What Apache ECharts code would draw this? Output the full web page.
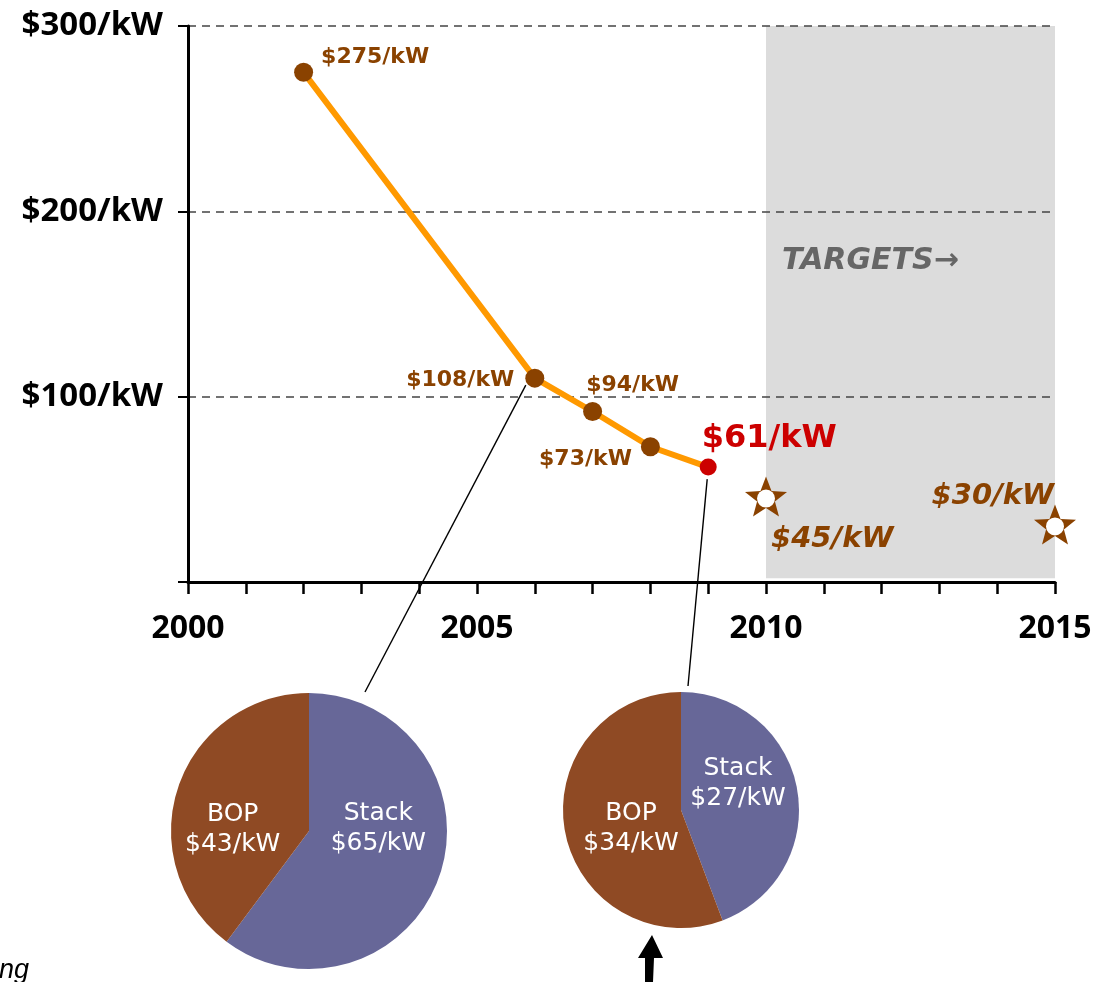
<!DOCTYPE html>
<html>
<head>
<meta charset="utf-8">
<script src="https://cdn.jsdelivr.net/npm/echarts@6/dist/echarts.min.js"></script>
<style>
html,body{margin:0;padding:0;background:#fff;}
#chart{width:1111px;height:982px;}
</style>
</head>
<body>
<div id="chart"></div>
<script>
// ---- data ----
const years = [2002, 2006, 2007, 2008, 2009];
const costs = [275, 110, 92, 73, 62];
const costLabels = ['$275/kW', '$108/kW', '$94/kW', '$73/kW', '$61/kW'];
const targetYears = [2010, 2015];
const targetCosts = [45, 30];
const targetLabels = ['$45/kW', '$30/kW'];
const pieNames = ['Stack', 'BOP'];
const pie2006 = [65, 43];
const pie2009 = [27, 34];
const xTickLabels = [2000, 2005, 2010, 2015];
const yTickLabels = [100, 200, 300];
const targetSpan = [2010, 2015];
const targetText = 'TARGETS\u2192';
const footText = 'ng';

// ---- styles ----
const BROWN = '#8a4200';
const RED = '#cc0000';
const ORANGE = '#ff9900';
const PIE_BROWN = '#8f4a24';
const PIE_PURPLE = '#676798';

const costLabelStyle = [
  {position: 'right', offset: [3, -15]},
  {position: 'left', offset: [-6, 2]},
  {position: 'top', offset: [40, -1]},
  {position: 'left', offset: [-4, 13]},
  {position: 'right', offset: [-20, -28], color: RED, fontSize: 32}
];
const targetLabelStyle = [
  {position: 'right', offset: [-9, 41]},
  {position: 'left', offset: [13, -30]}
];

const starPath = 'path://M0,-10 L2.5,-3.44 L9.51,-3.09 L4.04,1.31 L5.88,8.09 L0,4.25 L-5.88,8.09 L-4.04,1.31 L-9.51,-3.09 L-2.5,-3.44 Z';

const lineData = years.map((y, i) => {
  const st = costLabelStyle[i];
  const isLast = i === years.length - 1;
  return {
    value: [y, costs[i]],
    symbolSize: isLast ? 17 : 19,
    itemStyle: {color: isLast ? RED : BROWN},
    label: {
      show: true,
      formatter: costLabels[i],
      position: st.position,
      offset: st.offset,
      color: st.color || BROWN,
      fontSize: st.fontSize || 22,
      fontWeight: 'bold',
      fontFamily: 'DejaVu Sans'
    }
  };
});

const targetData = targetYears.map((y, i) => ({
  value: [y, targetCosts[i]],
  label: {
    show: true,
    formatter: targetLabels[i],
    position: targetLabelStyle[i].position,
    offset: targetLabelStyle[i].offset,
    color: BROWN,
    fontSize: 29,
    fontWeight: 'bold',
    fontStyle: 'italic',
    fontFamily: 'DejaVu Sans'
  }
}));

const pieLabelOffsets1 = [[1, -25], [-8, 21]];
const pieLabelOffsets2 = [[-4, -15], [11, 7]];
const pieColors = [PIE_PURPLE, PIE_BROWN];

function pieData(vals, offsets) {
  return pieNames.map((n, i) => ({
    name: n,
    value: vals[i],
    itemStyle: {color: pieColors[i]},
    label: {offset: offsets[i]}
  }));
}

const pieLabel = {
  show: true,
  position: 'inside',
  formatter: p => p.name + '\n$' + p.value + '/kW',
  color: '#fff',
  fontFamily: 'DejaVu Sans',
  fontSize: 25,
  lineHeight: 30
};

const chart = echarts.init(document.getElementById('chart'), null, {renderer: 'canvas'});

const option = {
  animation: false,
  backgroundColor: '#fff',
  grid: {left: 188, right: 56, top: 26, bottom: 400, containLabel: false},
  xAxis: {
    type: 'value',
    min: 2000, max: 2015, interval: 1,
    z: 2,
    axisLine: {show: true, onZero: false, lineStyle: {color: '#000', width: 3}},
    axisTick: {show: true, length: 12, lineStyle: {color: '#000', width: 2.5}},
    splitLine: {show: false},
    axisLabel: {
      margin: 31,
      color: '#000',
      fontFamily: 'Open Sans',
      fontWeight: 'bold',
      fontSize: 32,
      formatter: v => xTickLabels.indexOf(v) >= 0 ? String(v) : ''
    }
  },
  yAxis: {
    type: 'value',
    min: 0, max: 300, interval: 100,
    z: 1.5,
    axisLine: {show: true, lineStyle: {color: '#000', width: 3}},
    axisTick: {show: true, length: 10, lineStyle: {color: '#000', width: 2}},
    splitLine: {show: true, lineStyle: {color: '#444', width: 1.5, type: [8, 6]}},
    axisLabel: {
      margin: 25,
      color: '#000',
      fontFamily: 'Open Sans',
      fontWeight: 'bold',
      fontSize: 33,
      formatter: v => yTickLabels.indexOf(v) >= 0 ? '$' + v + '/kW' : ''
    }
  },
  series: [
    {
      type: 'scatter',
      z: 1,
      data: [],
      markArea: {
        silent: true,
        itemStyle: {color: '#dcdcdc', opacity: 1},
        label: {
          show: true,
          position: [16, 220],
          formatter: targetText,
          color: '#666',
          fontFamily: 'DejaVu Sans',
          fontWeight: 'bold',
          fontStyle: 'italic',
          fontSize: 30
        },
        data: [[{coord: [targetSpan[0], 2]}, {coord: [targetSpan[1], 300]}]]
      }
    },
    {
      type: 'line',
      z: 3,
      data: lineData,
      symbol: 'circle',
      lineStyle: {color: ORANGE, width: 6},
      itemStyle: {color: BROWN}
    },
    {
      type: 'scatter',
      z: 4,
      data: targetYears.map((y, i) => [y, targetCosts[i]]),
      symbol: starPath,
      symbolSize: [42, 40],
      symbolOffset: [0, -2],
      itemStyle: {color: BROWN, opacity: 1}
    },
    {
      type: 'scatter',
      z: 5,
      data: targetData,
      symbol: 'circle',
      symbolSize: 18,
      itemStyle: {color: '#fff', opacity: 1}
    },
    {
      type: 'pie',
      center: [309, 831],
      radius: 138,
      startAngle: 90,
      clockwise: true,
      label: pieLabel,
      labelLine: {show: false},
      data: pieData(pie2006, pieLabelOffsets1)
    },
    {
      type: 'pie',
      center: [681, 810],
      radius: 118,
      startAngle: 90,
      clockwise: true,
      label: pieLabel,
      labelLine: {show: false},
      data: pieData(pie2009, pieLabelOffsets2)
    }
  ]
};
chart.setOption(option);

// connector lines from data points to the pies
const p1 = chart.convertToPixel({xAxisIndex: 0, yAxisIndex: 0}, [years[1], costs[1]]);
const p2 = chart.convertToPixel({xAxisIndex: 0, yAxisIndex: 0}, [years[4], costs[4]]);
chart.setOption({
  graphic: [
    {type: 'line', z: 10, shape: {x1: p1[0] - 9, y1: p1[1] + 7, x2: 309 + 56, y2: 831 - 139}, style: {stroke: '#000', lineWidth: 1.4}},
    {type: 'line', z: 10, shape: {x1: p2[0] - 1, y1: p2[1] + 12, x2: 681 + 7, y2: 810 - 124}, style: {stroke: '#000', lineWidth: 1.4}},
    {type: 'polygon', z: 10, shape: {points: [[645, 982], [645, 958], [638, 958], [652, 935], [663, 958], [654, 958], [653, 982]]}, style: {fill: '#000'}},
    {type: 'text', z: 10, left: -1, top: 957, style: {text: footText, font: 'italic 27px "Liberation Sans"', fill: '#000'}}
  ]
});
</script>
</body>
</html>
